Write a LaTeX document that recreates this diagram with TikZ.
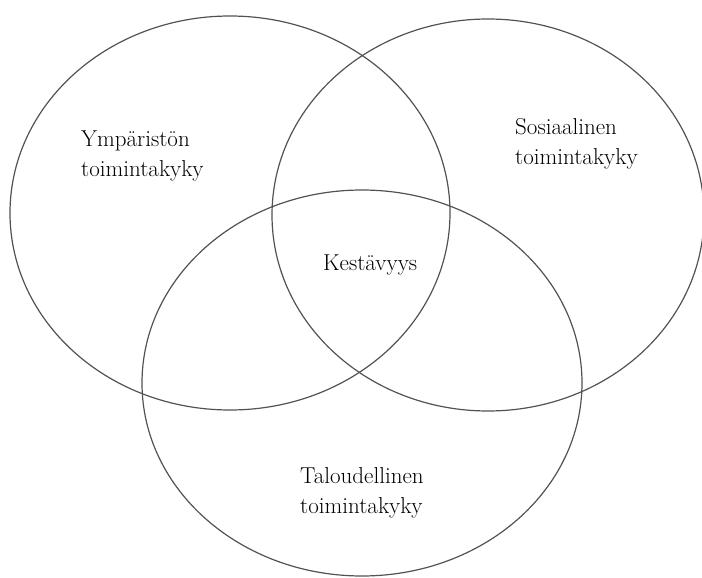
\documentclass[tikz,border=0pt]{standalone}

\begin{document}
\begin{tikzpicture}[
    x=1pt, y=-1pt,
    venn/.style={
        color=black!68,
        line width=1.2pt
    },
    setlabel/.style={
        anchor=north west,
        inner sep=0pt,
        align=left,
        font=\fontsize{23}{30}\selectfont
    }
]

\useasboundingbox (0,0) rectangle (702,578);

% circles
\draw[style=venn] (230,213) ellipse [x radius=220, y radius=197];
\draw[style=venn] (488,215) ellipse [x radius=216, y radius=196];
\draw[style=venn] (362,383) ellipse [x radius=220, y radius=193];

% labels
\node[setlabel] (ymparisto) at (81,131) {Ympäristön\\toimintakyky};
\node[setlabel] (sosiaalinen) at (515,118) {Sosiaalinen\\toimintakyky};
\node[setlabel] (taloudellinen) at (300,467) {Taloudellinen\\toimintakyky};
\node[setlabel, anchor=base west] (kestavyys) at (323,270) {Kestävyys};

\end{tikzpicture}
\end{document}
